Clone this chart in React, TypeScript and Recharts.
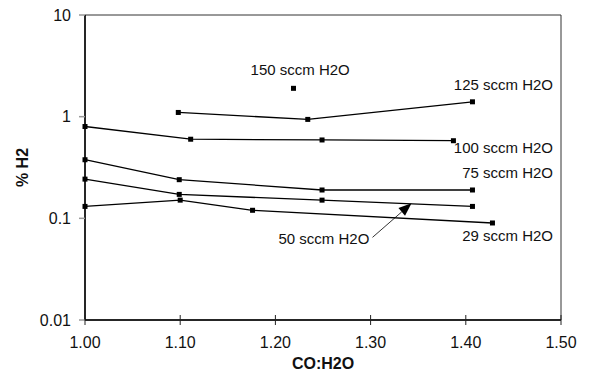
import React from "react";
import {
  ScatterChart,
  Scatter,
  XAxis,
  YAxis,
  ReferenceArea,
  ReferenceDot,
  ReferenceLine,
} from "recharts";

// CO:H2O ratio and % H2 for each water flow
const co29 = [1.0, 1.1, 1.176, 1.428];
const h29 = [0.131, 0.151, 0.12, 0.09];
const co50 = [1.0, 1.099, 1.249, 1.407];
const h50 = [0.243, 0.172, 0.151, 0.131];
const co75 = [1.0, 1.099, 1.249, 1.407];
const h75 = [0.377, 0.24, 0.19, 0.19];
const co100 = [1.0, 1.111, 1.249, 1.387];
const h100 = [0.8, 0.6, 0.59, 0.58];
const co125 = [1.098, 1.234, 1.407];
const h125 = [1.1, 0.94, 1.4];
const co150 = [1.219];
const h150 = [1.9];

const xTicks = [1.0, 1.1, 1.2, 1.3, 1.4, 1.5];
const yTicks = [0.01, 0.1, 1, 10];

// label anchors (data coords)
const labels = [
  { text: "150 sccm H2O", x: 1.226, y: 2.9, anchor: "middle" },
  { text: "125 sccm H2O", x: 1.4916, y: 2.08, anchor: "end" },
  { text: "100 sccm H2O", x: 1.4916, y: 0.503, anchor: "end" },
  { text: "75 sccm H2O", x: 1.4916, y: 0.2855, anchor: "end" },
  { text: "29 sccm H2O", x: 1.4916, y: 0.0685, anchor: "end" },
  { text: "50 sccm H2O", x: 1.251, y: 0.064, anchor: "middle" },
];
const arrowFrom = { x: 1.302, y: 0.065 };
const arrowTo = { x: 1.343, y: 0.1405 };

const FONT = "'Liberation Sans', Arial, sans-serif";

const pts = (xs: number[], ys: number[]) => xs.map((x, i) => ({ x, y: ys[i] }));

const Square = (props: any) => {
  const { cx, cy } = props;
  if (cx == null || cy == null) return null;
  return <rect x={cx - 2.5} y={cy - 2.5} width={5} height={5} fill="#000" />;
};

const XTick = (props: any) => {
  const { x, y, payload } = props;
  return (
    <g>
      <line x1={x} x2={x} y1={y - 5} y2={y + 5} stroke="#222" strokeWidth={1} />
      <text x={x} y={y + 28} textAnchor="middle" fontSize={16} fontFamily={FONT} fill="#111">
        {Number(payload.value).toFixed(2)}
      </text>
    </g>
  );
};

const Arrow = (props: any) => {
  const { x1, y1, x2, y2 } = props;
  if (x1 == null) return null;
  const ang = Math.atan2(y2 - y1, x2 - x1);
  const len = 13;
  const w = 5;
  const bx = x2 - len * Math.cos(ang);
  const by = y2 - len * Math.sin(ang);
  const px = -Math.sin(ang) * w;
  const py = Math.cos(ang) * w;
  return (
    <g>
      <line x1={x1} y1={y1} x2={bx} y2={by} stroke="#000" strokeWidth={0.8} />
      <polygon points={`${x2},${y2} ${bx + px},${by + py} ${bx - px},${by - py}`} fill="#000" />
    </g>
  );
};

const series = [
  pts(co29, h29),
  pts(co50, h50),
  pts(co75, h75),
  pts(co100, h100),
  pts(co125, h125),
  pts(co150, h150),
];

export default function App() {
  return (
    <div style={{ width: 589, height: 376, background: "#fff" }}>
      <style>{`body{margin:0}`}</style>
      <ScatterChart
        width={589}
        height={376}
        margin={{ top: 15, right: 28, bottom: 0, left: 0 }}
      >
        <XAxis
          dataKey="x"
          type="number"
          domain={[1.0, 1.5]}
          ticks={xTicks}
          height={56}
          stroke="#000"
          strokeWidth={1.5}
          tickLine={false}
          tickSize={0}
          tickMargin={0}
          tick={<XTick />}
          label={{
            content: (p: any) => {
              const vb = p.viewBox || {};
              return (
                <text
                  x={vb.x + vb.width / 2}
                  y={vb.y + 49}
                  textAnchor="middle"
                  fontSize={16}
                  fontWeight="bold"
                  fontFamily={FONT}
                  fill="#111"
                >
                  CO:H2O
                </text>
              );
            },
          }}
        />
        <YAxis
          dataKey="y"
          type="number"
          scale="log"
          domain={[0.01, 10]}
          ticks={yTicks}
          width={85}
          stroke="#000"
          strokeWidth={1.5}
          tickLine={{ stroke: "#999" }}
          tickSize={6}
          tickMargin={8}
          tick={{ fontSize: 16, fontFamily: FONT, fill: "#111" }}
          label={{
            content: (p: any) => {
              const vb = p.viewBox || {};
              const cx = 22;
              const cy = vb.y + vb.height / 2;
              return (
                <text
                  x={cx}
                  y={cy}
                  transform={`rotate(-90 ${cx} ${cy})`}
                  textAnchor="middle"
                  dominantBaseline="central"
                  fontSize={16}
                  fontWeight="bold"
                  fontFamily={FONT}
                  fill="#111"
                >
                  % H2
                </text>
              );
            },
          }}
        />
        <ReferenceArea
          x1={1.0}
          x2={1.5}
          y1={0.01}
          y2={10}
          fill="none"
          stroke="#333"
          strokeWidth={1}
        />
        {series.map((d, i) => (
          <Scatter
            key={i}
            data={d}
            fill="#000"
            line={{ stroke: "#000", strokeWidth: 1.3 }}
            shape={<Square />}
            isAnimationActive={false}
          />
        ))}
        <ReferenceLine
          segment={[arrowFrom, arrowTo]}
          shape={<Arrow />}
          ifOverflow="visible"
        />
        {labels.map((l) => (
          <ReferenceDot
            key={l.text}
            x={l.x}
            y={l.y}
            r={0}
            fill="none"
            stroke="none"
            label={{
              content: (p: any) => {
                const vb = p.viewBox || {};
                const cx = vb.x + (vb.width || 0) / 2;
                const cy = vb.y + (vb.height || 0) / 2;
                return (
                  <text
                    x={cx}
                    y={cy}
                    textAnchor={l.anchor as any}
                    dominantBaseline="central"
                    fontSize={15}
                    fontFamily={FONT}
                    fill="#111"
                  >
                    {l.text}
                  </text>
                );
              },
            }}
          />
        ))}
      </ScatterChart>
    </div>
  );
}
